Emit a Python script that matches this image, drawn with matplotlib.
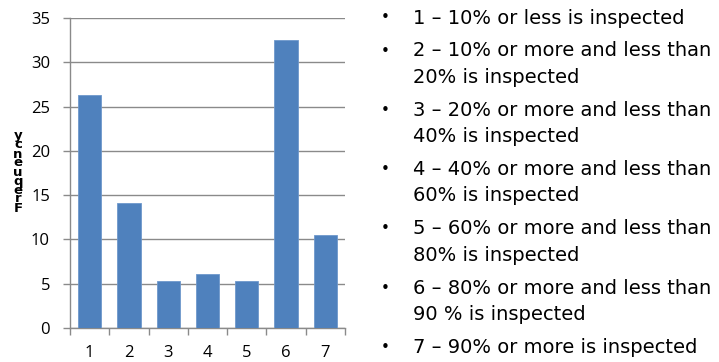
import matplotlib
matplotlib.use("Agg")
import matplotlib.pyplot as plt
import numpy as np

categories = ["1", "2", "3", "4", "5", "6", "7"]
values = [26.3, 14.1, 5.3, 6.1, 5.3, 32.5, 10.5]
y_ticks = [0, 5, 10, 15, 20, 25, 30, 35]
y_label = "Frequency"
legend_items = [
    ["1 \u2013 10% or less is inspected"],
    ["2 \u2013 10% or more and less than", "20% is inspected"],
    ["3 \u2013 20% or more and less than", "40% is inspected"],
    ["4 \u2013 40% or more and less than", "60% is inspected"],
    ["5 \u2013 60% or more and less than", "80% is inspected"],
    ["6 \u2013 80% or more and less than", "90 % is inspected"],
    ["7 \u2013 90% or more is inspected"],
]

W, H = 719, 362
fig = plt.figure(figsize=(W / 100, H / 100), dpi=100)
fig.patch.set_facecolor("white")

font = "Open Sans"
grey = "#8A8A8A"
left, right, top, bottom = 70, 345, 18, 328
ax = fig.add_axes([left / W, 1 - bottom / H, (right - left) / W, (bottom - top) / H])

x = np.arange(len(categories))
ax.bar(x, values, width=0.59, color="#4F81BD", edgecolor="#6E98CC", linewidth=0.6, zorder=3)
ax.set_xlim(-0.5, len(categories) - 0.5)
ax.set_ylim(0, 35)
ax.set_yticks(y_ticks)
ax.set_yticklabels([str(t) for t in y_ticks], fontfamily=font, fontsize=12)
ax.yaxis.grid(True, color=grey, linewidth=1.0, zorder=0)
ax.tick_params(axis="y", length=5, width=1, color=grey, pad=9.4)

ax.set_xticks(x)
ax.set_xticklabels(categories, fontfamily=font, fontsize=12)
ax.tick_params(axis="x", which="major", length=0, pad=12.5)
ax.set_xticks(np.arange(-0.5, len(categories) + 0.5, 1), minor=True)
ax.tick_params(axis="x", which="minor", length=5, width=1, color=grey, direction="out")

for s in ["top", "right"]:
    ax.spines[s].set_visible(False)
for s in ["left", "bottom"]:
    ax.spines[s].set_color(grey)
    ax.spines[s].set_linewidth(1.0)

# stacked y-label
fig.text(18 / W, 1 - 172 / H, "\n".join(reversed(y_label)), fontsize=9.5, fontweight="bold",
         linespacing=0.6, ha="center", va="center", fontfamily="DejaVu Sans")

# bulleted text on the right
tfont = "DejaVu Sans"
y = 18
for item in legend_items:
    fig.text(385 / W, 1 - y / H, "\u2022", fontsize=11, fontfamily=tfont, ha="center", va="center")
    for j, line in enumerate(item):
        fig.text(413 / W, 1 - y / H, line, fontsize=14, fontfamily=tfont, ha="left", va="center")
        if j < len(item) - 1:
            y += 26.3
    y += 33

fig.savefig("out.png", dpi=100)
